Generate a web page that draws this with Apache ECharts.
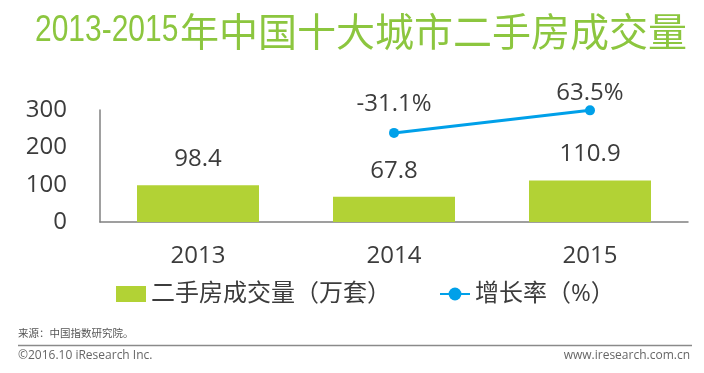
<!DOCTYPE html>
<html>
<head>
<meta charset="utf-8">
<script src="https://cdn.jsdelivr.net/npm/echarts@6/dist/echarts.min.js"></script>
<style>
html,body{margin:0;padding:0;background:#fff;}
#chart{width:704px;height:373px;}
</style>
</head>
<body>
<div id="chart"></div>
<script>
// ---- data ----
const categories = ['2013', '2014', '2015'];
const volumeValues = [98.4, 67.8, 110.9];          // 二手房成交量（万套）
const growthValues = [null, -31.1, 63.5];          // 增长率（%）
const yTicks = [0, 100, 200, 300];
const seriesNames = ['二手房成交量（万套）', '增长率（%）'];
const titleYears = '2013-2015';
const titleRest = '年中国十大城市二手房成交量';
const sourceText = '来源：中国指数研究院。';
const copyrightText = '©2016.10 iResearch Inc.';
const siteText = 'www.iresearch.com.cn';

const NUM_FONT = '"Open Sans", "Noto Sans CJK SC", sans-serif';
const CJK_FONT = '"Open Sans", "Noto Sans CJK SC", sans-serif';
const TEXT_COLOR = '#3c3c3c';
const GREEN = '#b2d235';
const TITLE_GREEN = '#8cc63f';
const BLUE = '#00a0e9';

const rateLabelDistances = [0, 12, 0];

const chart = echarts.init(document.getElementById('chart'), null, {renderer: 'canvas'});

const option = {
  backgroundColor: '#ffffff',
  animation: false,
  grid: {left: 100, right: 16, top: 110, bottom: 151, containLabel: false},
  legend: {
    left: 111,
    top: 277,
    itemWidth: 30,
    itemHeight: 16,
    itemGap: 48,
    textStyle: {fontFamily: CJK_FONT, fontSize: 24, color: TEXT_COLOR},
    data: [
      {name: seriesNames[0], icon: 'rect'},
      {name: seriesNames[1]}
    ]
  },
  xAxis: {
    type: 'category',
    data: categories,
    axisLine: {show: true, lineStyle: {color: '#808080', width: 1.5}},
    axisTick: {show: false},
    axisLabel: {fontFamily: NUM_FONT, fontSize: 24, color: TEXT_COLOR, margin: 22}
  },
  yAxis: [
    {
      type: 'value',
      min: yTicks[0],
      max: yTicks[yTicks.length - 1],
      interval: yTicks[1] - yTicks[0],
      axisLine: {show: true, lineStyle: {color: '#808080', width: 1.5}},
      axisTick: {show: false},
      splitLine: {show: false},
      axisLabel: {fontFamily: NUM_FONT, fontSize: 24, color: TEXT_COLOR, margin: 33}
    },
    {
      type: 'value',
      min: -405,
      max: 65,
      show: false,
      splitLine: {show: false}
    }
  ],
  series: [
    {
      name: seriesNames[0],
      type: 'bar',
      data: volumeValues,
      barWidth: 122,
      itemStyle: {color: GREEN},
      label: {
        show: true,
        position: 'top',
        distance: 14,
        fontFamily: NUM_FONT,
        fontSize: 24,
        color: TEXT_COLOR
      }
    },
    {
      name: seriesNames[1],
      type: 'line',
      yAxisIndex: 1,
      data: growthValues.map((v, i) => ({
        value: v,
        label: {distance: rateLabelDistances[i]}
      })),
      symbol: 'circle',
      symbolSize: 10,
      lineStyle: {color: BLUE, width: 3},
      itemStyle: {color: BLUE},
      label: {
        show: true,
        position: 'top',
        fontFamily: NUM_FONT,
        fontSize: 24,
        color: TEXT_COLOR,
        formatter: p => p.value == null ? '' : p.value.toFixed(1) + '%'
      }
    }
  ],
  graphic: [
    {
      type: 'text', x: 35, y: 31, scaleX: 0.81, scaleY: 1,
      style: {
        text: titleYears, x: 0, y: 0,
        fontFamily: '"Liberation Sans", Arial, sans-serif', fontSize: 37,
        fill: TITLE_GREEN, align: 'left', verticalAlign: 'middle'
      }
    },
    {
      type: 'text', x: 180, y: 31,
      style: {
        text: titleRest, x: 0, y: 0,
        fontFamily: '"Noto Sans CJK SC", sans-serif', fontSize: 39,
        fill: TITLE_GREEN, align: 'left', verticalAlign: 'middle'
      }
    },
    {
      type: 'text', left: 18, top: 328,
      style: {text: sourceText, fontFamily: '"Noto Sans CJK SC", sans-serif', fontSize: 10.5, fill: '#555'}
    },
    {
      type: 'line',
      shape: {x1: 18, y1: 345.5, x2: 692, y2: 345.5},
      style: {stroke: '#8a8a8a', lineWidth: 1.5}
    },
    {
      type: 'text', left: 18, top: 350,
      style: {text: copyrightText, fontFamily: '"Open Sans", sans-serif', fontSize: 12, fill: '#666'}
    },
    {
      type: 'text', right: 14, top: 350,
      style: {text: siteText, fontFamily: '"Open Sans", sans-serif', fontSize: 12, fill: '#666'}
    }
  ]
};

chart.setOption(option);
</script>
</body>
</html>
